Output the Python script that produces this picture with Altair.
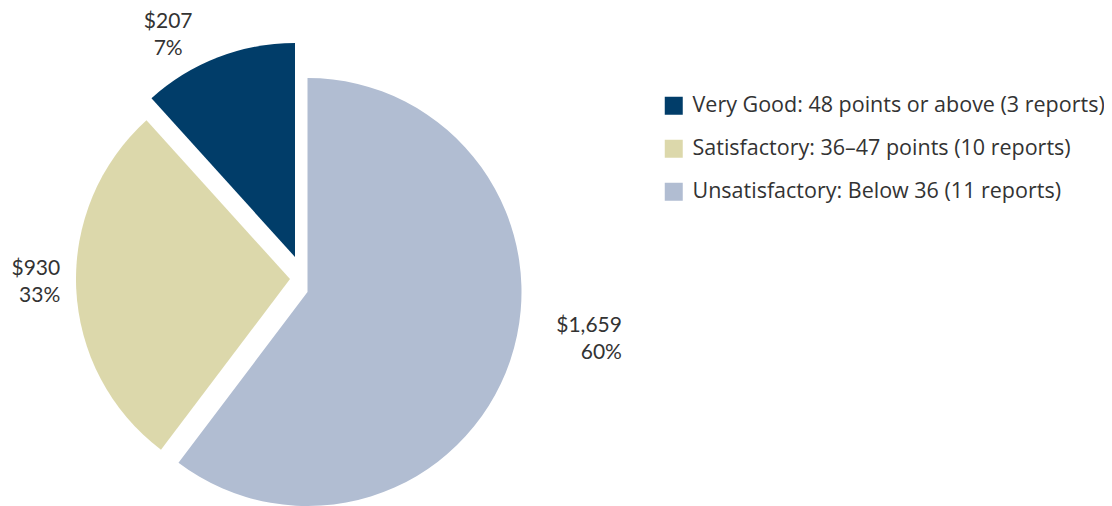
import altair as alt
import pandas as pd

# ---- data ----
categories = ["Unsatisfactory", "Satisfactory", "Very Good"]          # clockwise from 12 o'clock
legend_labels = {
    "Very Good": "Very Good: 48 points or above (3 reports)",
    "Satisfactory": "Satisfactory: 36\u201347 points (10 reports)",
    "Unsatisfactory": "Unsatisfactory: Below 36 (11 reports)",
}
slice_share = [60.3, 28.0, 11.7]        # angular share of each slice as drawn
amount_labels = ["$1,659", "$930", "$207"]
pct_labels = ["60%", "33%", "7%"]
draw_order = [0, 1, 2]

legend_order = ["Very Good", "Satisfactory", "Unsatisfactory"]
colors = ["#013d69", "#dcd8ab", "#b1bdd2"]

df = pd.DataFrame({
    "category": [legend_labels[c] for c in categories],
    "key": categories,
    "share": slice_share,
    "amount": amount_labels,
    "pct": pct_labels,
    "order": draw_order,
})

# ---- styles / positions ----
FONT = "Lato"
LEGEND_FONT = "Open Sans"
TEXT_COLOR = "#333333"
R = 214
style = {
    # slice centre (exploded), label radius, label align, dx, dy
    "Unsatisfactory": dict(cx=299.5, cy=284, lr=300, align="right", dx=30, dy=-55),
    "Satisfactory": dict(cx=282, cy=271, lr=230, align="right", dx=0, dy=-14),
    "Very Good": dict(cx=287, cy=249, lr=250, align="center", dx=-37, dy=4),
}

theta_scale = alt.Scale(domain=[0, 100])
color_enc = alt.Color(
    "category:N",
    scale=alt.Scale(domain=[legend_labels[c] for c in legend_order], range=colors),
    legend=alt.Legend(
        title=None,
        orient="none",
        legendX=655,
        legendY=87,
        symbolType="square",
        symbolSize=324,
        symbolStrokeWidth=0,
        labelFont=LEGEND_FONT,
        labelFontSize=21.5,
        labelColor=TEXT_COLOR,
        labelOffset=8,
        rowPadding=20,
        padding=0,
        labelLimit=600,
    ),
)

base = (
    alt.Chart(df)
    .transform_window(end="sum(share)", frame=[None, 0], sort=[{"field": "order"}])
    .transform_calculate(
        start="datum.end - datum.share",
        mid="datum.end - datum.share / 2",
        label="datum.amount + '\\n' + datum.pct",
    )
)

layers = []
for key in categories:
    s = style[key]
    sub = base.transform_filter(alt.datum.key == key)
    arc = sub.mark_arc(radius=R, stroke=None).encode(
        theta=alt.Theta("start:Q", scale=theta_scale),
        theta2="end:Q",
        color=color_enc,
        x=alt.value(s["cx"]),
        y=alt.value(s["cy"]),
    )
    txt = sub.mark_text(
        radius=s["lr"],
        align=s["align"],
        baseline="alphabetic",
        dx=s["dx"],
        dy=s["dy"],
        font=FONT,
        fontSize=21,
        color=TEXT_COLOR,
        lineBreak="\n",
        lineHeight=27,
    ).encode(
        theta=alt.Theta("mid:Q", scale=theta_scale),
        text="label:N",
        x=alt.value(s["cx"]),
        y=alt.value(s["cy"]),
    )
    layers += [arc, txt]

chart = (
    alt.layer(*layers)
    .properties(width=1096, height=498, padding=0, autosize=alt.AutoSizeParams(type="none"))
    .configure_view(stroke=None)
)

chart.save("out.html", embed_options={"renderer": "svg", "actions": False})
